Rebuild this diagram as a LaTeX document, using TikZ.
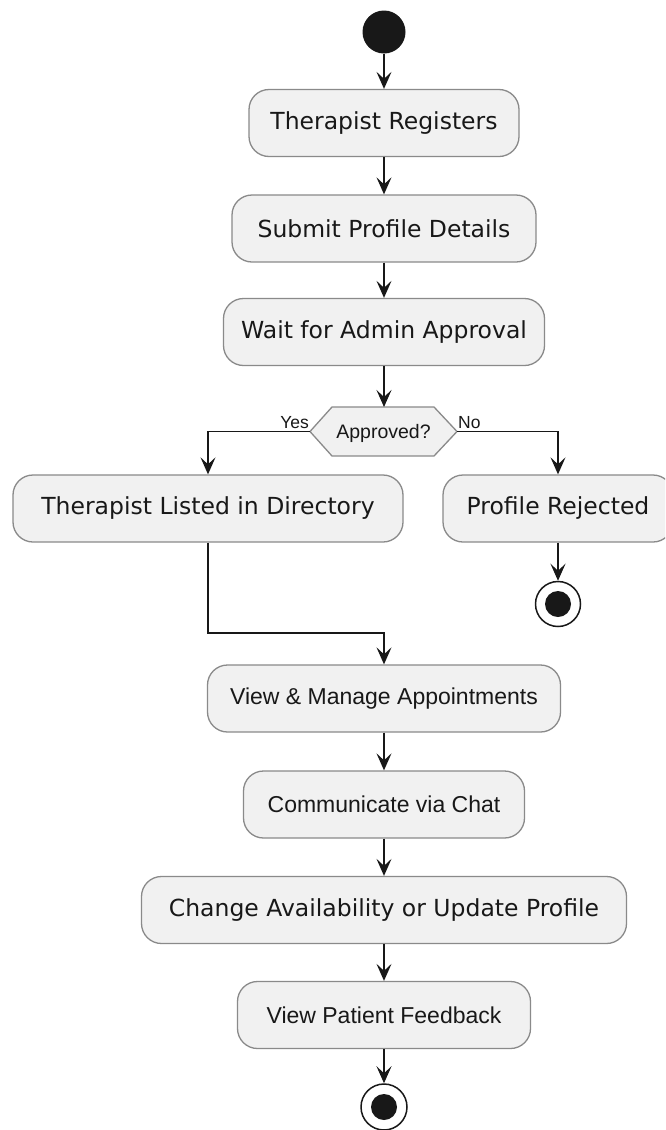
\documentclass[tikz,border=0pt]{standalone}
\usepackage{fontspec}
\setmainfont{Liberation Sans}
\newfontfamily\djv{DejaVu Sans}
\usetikzlibrary{arrows.meta}
\definecolor{actfill}{HTML}{F1F1F1}
\definecolor{actdraw}{HTML}{8A8A8A}
\definecolor{ink}{HTML}{181818}
\tikzset{
  x=1pt, y=-1pt,
  act/.style={draw=actdraw, fill=actfill, line width=1.3pt, rounded corners=20pt,
    minimum height=67pt, inner sep=0pt, text=ink, anchor=center},
  djtext/.style={font=\djv\fontsize{23.5}{27}\selectfont},
  lstext/.style={font=\fontsize{23}{27}\selectfont},
  flow/.style={draw=ink, line width=1.5pt, -{Stealth[length=17pt,width=15pt,inset=7pt]}},
  lbl/.style={font=\fontsize{17.5}{20}\selectfont, text=ink, inner sep=0pt},
}
\begin{document}
\begin{tikzpicture}
\useasboundingbox (0,0) rectangle (665,1130);
\clip (0,0) rectangle (665,1130);
\fill[white] (0,0) rectangle (665,1130);

% start
\node[circle, fill=ink, minimum size=43pt, inner sep=0pt] (start) at (384,32) {};

\node[act, djtext, minimum width=270pt] (reg) at (384,123) {Therapist Registers};
\node[act, djtext, minimum width=304pt] (sub) at (384,228.5) {Submit Profile Details};
\node[act, djtext, minimum width=321pt] (wait) at (384,332) {Wait for Admin Approval};

% decision hexagon
\coordinate (hexL) at (310,431.5);
\coordinate (hexR) at (457,431.5);
\coordinate (hexT) at (384,407);
\filldraw[draw=actdraw, fill=actfill, line width=1.3pt]
  (hexL) -- (332,407) -- (434,407) -- (hexR) -- (434,456) -- (332,456) -- cycle;
\node[font=\fontsize{19.5}{22}\selectfont, text=ink, inner sep=0pt] (dec) at (383.5,433) {Approved?};

\node[act, djtext, minimum width=390pt] (listed) at (208,508.5) {Therapist Listed in Directory};
\node[act, djtext, minimum width=230pt] (rej) at (558,508.5) {Profile Rejected};

% end 1
\node[circle, draw=ink, line width=1.5pt, fill=white, minimum size=45pt, inner sep=0pt] (end1) at (558,604) {};
\node[circle, fill=ink, minimum size=26pt, inner sep=0pt] (end1dot) at (end1.center) {};

\node[act, lstext, minimum width=353pt] (view) at (384,698.5) {View \& Manage Appointments};
\node[act, lstext, minimum width=281pt] (chat) at (384,804.5) {Communicate via Chat};
\node[act, djtext, minimum width=485pt] (change) at (384,910) {Change Availability or Update Profile};
\node[act, lstext, minimum width=293pt] (feed) at (384,1015) {View Patient Feedback};

% end 2
\node[circle, draw=ink, line width=1.5pt, fill=white, minimum size=46pt, inner sep=0pt] (end2) at (384,1107) {};
\node[circle, fill=ink, minimum size=26pt, inner sep=0pt] (end2dot) at (end2.center) {};

% connectors
\draw[flow] (start) -- (reg);
\draw[flow] (reg) -- (sub);
\draw[flow] (sub) -- (wait);
\draw[flow] (wait.south) -- (hexT);
\draw[flow] (hexL) -| (listed.north);
\draw[flow] (hexR) -| (rej.north);
\node[lbl, anchor=base east] (yes) at (309,428) {Yes};
\node[lbl, anchor=base west] (no) at (458,428) {No};
\draw[flow] (rej) -- (end1);
\coordinate (joinL) at (208,633);
\coordinate (joinR) at (384,633);
\draw[flow] (listed.south) -- (joinL) -- (joinR) -- (view.north);
\draw[flow] (view) -- (chat);
\draw[flow] (chat) -- (change);
\draw[flow] (change) -- (feed);
\draw[flow] (feed) -- (end2);
\end{tikzpicture}
\end{document}
